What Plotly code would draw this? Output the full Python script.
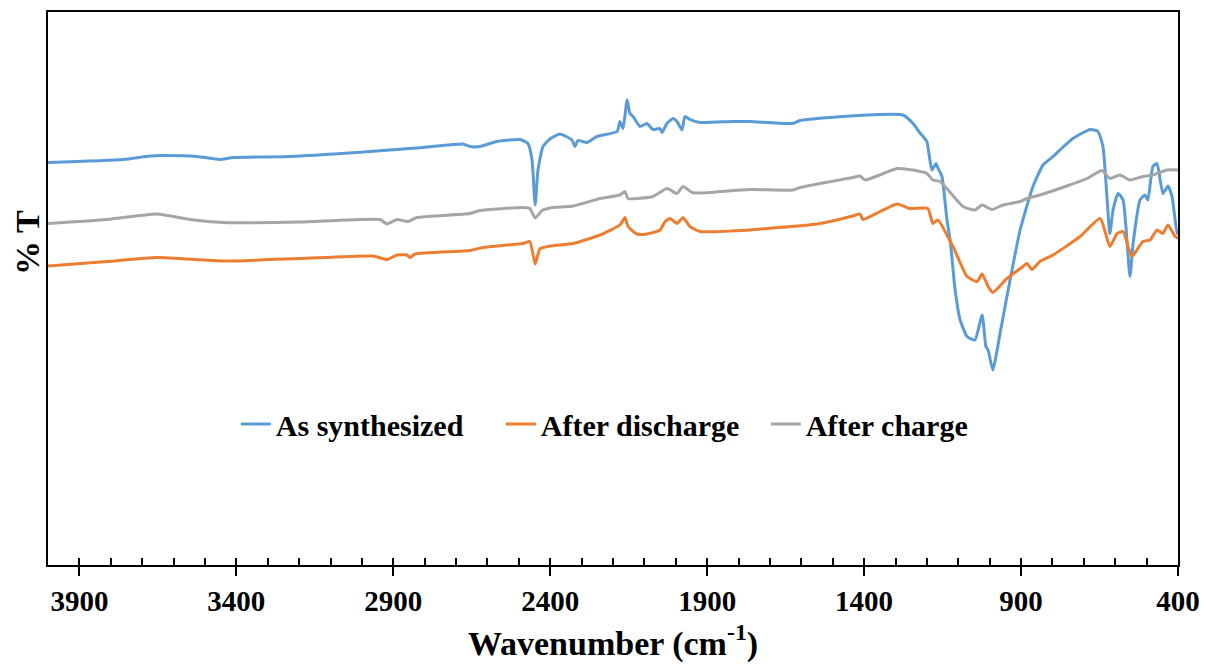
import plotly.graph_objects as go

# FTIR spectra: wavenumber (cm-1) and transmittance (arbitrary offset %T)
as_synth_wn = [4000, 3761, 3675, 3634, 3525, 3452, 3411, 3229, 3016, 2805, 2678, 2656, 2624,
               2570, 2496, 2471, 2458, 2448, 2439, 2423, 2401, 2369, 2331, 2321, 2312, 2283,
               2251, 2187, 2178, 2168, 2155, 2146, 2136, 2114, 2092, 2073, 2050, 2044, 2028,
               2009, 1996, 1980, 1971, 1955, 1923, 1818, 1764, 1627, 1604, 1445, 1349, 1276,
               1244, 1222, 1212, 1200, 1184, 1171, 1165, 1152, 1136, 1126, 1110, 1094, 1072,
               1047, 1024, 1012, 1005, 990, 967, 935, 903, 862, 830, 798, 766, 735, 680, 655,
               639, 617, 607, 591, 575, 553, 543, 521, 505, 496, 480, 467, 448, 432, 419, 403, 400]
as_synth_t = [80.5, 81.1, 81.8, 81.9, 81.7, 81.1, 81.5, 81.7, 82.5, 83.5, 84.2, 83.7, 83.7,
              84.7, 85.1, 84.3, 81.0, 72.0, 79.0, 83.7, 85.2, 86.2, 85.0, 83.7, 84.9, 84.5,
              85.7, 86.7, 88.7, 87.3, 93.0, 90.3, 89.7, 87.7, 88.3, 87.1, 87.3, 86.5, 88.3,
              89.3, 88.7, 87.0, 89.7, 89.1, 88.5, 88.7, 88.7, 88.3, 88.9, 89.8, 90.1, 90.0,
              88.3, 86.4, 85.7, 84.7, 79.0, 80.3, 79.4, 77.7, 69.0, 65.0, 55.0, 49.0, 45.7,
              45.0, 50.0, 43.7, 43.0, 39.0, 46.3, 57.0, 67.0, 75.7, 80.0, 81.7, 83.6, 85.3, 87.1, 86.7,
              83.7, 66.3, 71.0, 74.3, 73.0, 57.7, 64.3, 73.0, 74.0, 73.0, 79.7, 80.3, 74.3, 75.8, 73.7, 66.3, 66.7]

discharge_wn = [4000, 3812, 3653, 3442, 3197, 2965, 2920, 2888, 2856, 2847, 2831, 2656, 2614,
                2487, 2465, 2448, 2433, 2401, 2327, 2241, 2178, 2162, 2152, 2124, 2092, 2050,
                2034, 2018, 1996, 1977, 1955, 1923, 1764, 1709, 1550, 1436, 1413, 1404, 1349,
                1295, 1254, 1197, 1181, 1165, 1117, 1072, 1040, 1024, 1005, 990, 945, 894, 881,
                865, 840, 798, 712, 648, 617, 594, 575, 547, 512, 489, 467, 448, 432, 410, 400]
discharge_t = [59.8, 60.7, 61.5, 60.8, 61.3, 61.8, 61.1, 62.0, 62.0, 61.5, 62.2, 62.9, 63.5,
               64.3, 64.7, 60.2, 63.2, 63.8, 64.3, 66.0, 68.0, 69.5, 67.7, 66.2, 66.2, 67.0,
               68.7, 69.3, 68.3, 69.5, 67.7, 66.7, 67.0, 67.3, 68.2, 69.8, 70.2, 69.1, 70.7,
               72.2, 71.3, 71.3, 68.3, 69.0, 63.7, 57.7, 56.7, 58.2, 55.7, 54.5, 57.3, 59.7, 60.3,
               59.1, 60.7, 62.0, 65.7, 69.3, 63.7, 66.3, 66.7, 61.7, 64.7, 65.0, 67.0, 66.3, 68.0, 65.8, 65.3]

charge_wn = [4000, 3812, 3653, 3548, 3442, 3197, 2942, 2920, 2888, 2853, 2825, 2656, 2624,
             2487, 2465, 2448, 2426, 2401, 2327, 2241, 2178, 2162, 2152, 2073, 2028, 1996,
             1977, 1948, 1923, 1764, 1627, 1604, 1436, 1413, 1397, 1295, 1244, 1200, 1181,
             1158, 1085, 1047, 1024, 993, 957, 903, 881, 840, 754, 690, 642, 617, 585, 553,
             512, 480, 435, 400]
charge_t = [68.3, 69.1, 70.2, 69.1, 68.5, 68.6, 69.1, 68.2, 69.1, 68.7, 69.5, 70.3, 70.9,
            71.5, 71.3, 69.4, 70.9, 71.4, 71.8, 73.3, 74.0, 74.7, 73.3, 73.7, 75.3, 74.3,
            75.7, 74.5, 74.4, 75.1, 75.0, 75.5, 77.5, 77.8, 77.0, 79.3, 79.0, 78.3, 77.0,
            76.7, 71.7, 71.0, 72.0, 71.1, 72.0, 72.7, 73.3, 74.0, 75.8, 77.3, 78.9, 77.3, 78.0, 77.0,
            77.7, 78.0, 79.0, 79.0]

major_ticks = [3900, 3400, 2900, 2400, 1900, 1400, 900, 400]

FONT = "Liberation Serif"

fig = go.Figure()
for name, wn, t, color in [
    ("As synthesized", as_synth_wn, as_synth_t, "#5B9BD5"),
    ("After discharge", discharge_wn, discharge_t, "#ED7D31"),
    ("After charge", charge_wn, charge_t, "#A5A5A5"),
]:
    fig.add_trace(go.Scatter(x=wn, y=t, mode="lines", name=name,
                             line=dict(color=color, width=3, shape="spline", smoothing=0.5)))

fig.update_layout(
    width=1206, height=666,
    margin=dict(l=48, r=28, t=12, b=101),
    paper_bgcolor="white", plot_bgcolor="white",
    font=dict(family=FONT, color="black"),
    showlegend=True,
    legend=dict(orientation="h", x=0.518, xanchor="center", y=0.255, yanchor="middle",
                font=dict(family=FONT, size=30, weight="bold", color="black"),
                bgcolor="rgba(0,0,0,0)", entrywidth=220, entrywidthmode="pixels"),
    xaxis=dict(range=[4000, 400], tickvals=major_ticks, ticks="outside", ticklen=9,
               tickwidth=1.5, tickcolor="black",
               showline=True, linecolor="black", linewidth=2, mirror=True,
               showgrid=False, zeroline=False, automargin=False,
               tickfont=dict(family=FONT, size=29, weight="bold", color="black"),
               title=dict(text="Wavenumber (cm<sup>-1</sup>)", standoff=15,
                          font=dict(family=FONT, size=34, weight="bold", color="black"))),
    xaxis2=dict(range=[4000, 400], overlaying="x", anchor="y", side="bottom",
                tick0=400, dtick=100, ticks="inside", ticklen=7, tickwidth=1.5,
                tickcolor="black", showticklabels=False, showline=False,
                showgrid=False, zeroline=False),
    yaxis=dict(range=[0, 110.6], showticklabels=False, ticks="",
               showline=True, linecolor="black", linewidth=2, mirror=True,
               showgrid=False, zeroline=False),
)

# invisible trace so the minor-tick axis is drawn
fig.add_trace(go.Scatter(x=[4000, 400], y=[None, None], xaxis="x2", yaxis="y",
                         showlegend=False, hoverinfo="skip", mode="lines"))

fig.add_annotation(text="% T", xref="paper", yref="paper",
                   x=-0.0177, y=(565 - 242) / 553, xanchor="center", yanchor="middle",
                   textangle=-90, showarrow=False,
                   font=dict(family=FONT, size=34, weight="bold", color="black"))

fig.write_html("out.html")
